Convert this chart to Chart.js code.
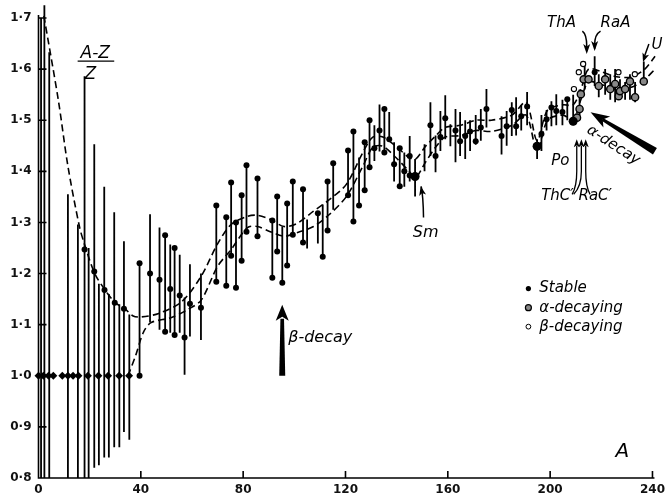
<!DOCTYPE html>
<html>
<head>
<meta charset="utf-8">
<script src="https://cdn.jsdelivr.net/npm/chart.js@4.4.1/dist/chart.umd.min.js"></script>
<style>
  body { margin: 0; background: #fff; }
  #wrap { width: 670px; height: 501px; }
</style>
</head>
<body>
<div id="wrap"><canvas id="chart"></canvas></div>
<script>
// (A-Z)/Z against mass number A
const xTicks = [0, 40, 80, 120, 160, 200, 240];
const yTicks = [0.8, 0.9, 1.0, 1.1, 1.2, 1.3, 1.4, 1.5, 1.6, 1.7];

// vertical spans: [A, low, high]
const spans = [
  [1, 0.8, 1.70], [2.3, 0.8, 1.725], [4.2, 0.8, 1.633], [11.5, 0.8, 1.355], [15.4, 0.8, 1.296],
  [18, 0.8, 1.586], [19.6, 0.8, 1.25], [21.8, 0.82, 1.453], [23.6, 0.825, 1.18], [25.7, 0.84, 1.37],
  [27.5, 0.84, 1.16], [29.6, 0.86, 1.32], [31.6, 0.86, 1.14], [33.4, 0.89, 1.263], [35.5, 0.875, 1.12],
  [39.5, 1.0, 1.22], [43.6, 1.104, 1.316], [47.3, 1.09, 1.29], [49.5, 1.086, 1.275], [51.5, 1.084, 1.257],
  [53.2, 1.08, 1.25], [55.2, 1.084, 1.237], [57.1, 1.002, 1.153], [59.2, 1.077, 1.218], [63.5, 1.07, 1.2],
  [69.5, 1.184, 1.333], [73.4, 1.176, 1.31], [75.3, 1.235, 1.378], [77.2, 1.172, 1.3], [79.4, 1.225, 1.353],
  [81.3, 1.282, 1.412], [85.6, 1.273, 1.386], [91.4, 1.192, 1.304], [93.3, 1.243, 1.351], [95.3, 1.182, 1.292],
  [97.2, 1.216, 1.337], [99.4, 1.276, 1.38], [103.4, 1.261, 1.365], [105.0, 1.249, 1.306], [109.2, 1.259, 1.318],
  [111.1, 1.233, 1.335], [113.0, 1.284, 1.38], [115.2, 1.325, 1.416], [121.0, 1.353, 1.441], [123.1, 1.302, 1.478],
  [125.3, 1.333, 1.427], [127.5, 1.363, 1.457], [129.4, 1.408, 1.5], [131.3, 1.42, 1.49], [133.3, 1.439, 1.531],
  [135.2, 1.437, 1.522], [137.1, 1.463, 1.516], [139.0, 1.38, 1.457], [141.2, 1.371, 1.445], [143.0, 1.37, 1.437],
  [145.1, 1.38, 1.469], [147.2, 1.351, 1.424], [150.9, 1.40, 1.453], [153.2, 1.43, 1.535], [155.2, 1.398, 1.47],
  [157.1, 1.44, 1.518], [159.0, 1.463, 1.549], [161.0, 1.449, 1.492], [163.0, 1.418, 1.522], [164.8, 1.43, 1.516],
  [166.8, 1.424, 1.5], [168.7, 1.44, 1.5], [170.9, 1.452, 1.51], [172.9, 1.46, 1.522], [175.1, 1.486, 1.561],
  [181.0, 1.433, 1.508], [183.0, 1.45, 1.518], [185.0, 1.469, 1.535], [186.7, 1.47, 1.545], [188.7, 1.48, 1.53],
  [191.0, 1.49, 1.555], [194.9, 1.424, 1.463], [196.6, 1.44, 1.51], [198.6, 1.48, 1.52], [200.5, 1.488, 1.537],
  [202.4, 1.49, 1.551], [204.8, 1.49, 1.54], [206.7, 1.5, 1.545], [209.0, 1.49, 1.55], [211.5, 1.5, 1.56],
  [213.5, 1.56, 1.615], [217.4, 1.567, 1.625], [219.0, 1.545, 1.59], [221.5, 1.55, 1.6], [223.5, 1.54, 1.59],
  [225.4, 1.535, 1.6], [227.3, 1.54, 1.58], [229.3, 1.54, 1.575], [231.2, 1.54, 1.59], [233.2, 1.535, 1.575],
  [236.6, 1.57, 1.615]
];

// stable nuclei: [A, value]
const stableDots = [
  [18, 1.247], [21.8, 1.204], [25.8, 1.168], [29.8, 1.143], [33.4, 1.131], [39.5, 1.22], [39.5, 1.0],
  [43.6, 1.2], [47.3, 1.188], [49.5, 1.275], [49.5, 1.086], [51.5, 1.17], [53.2, 1.25], [53.2, 1.08],
  [55.2, 1.157], [57.1, 1.075], [59.2, 1.141], [63.5, 1.133], [69.5, 1.333], [69.5, 1.184], [73.4, 1.31],
  [73.4, 1.176], [75.3, 1.378], [75.3, 1.235], [77.2, 1.3], [77.2, 1.172], [79.4, 1.353], [79.4, 1.225],
  [81.3, 1.412], [81.3, 1.282], [85.6, 1.386], [85.6, 1.273], [91.4, 1.304], [91.4, 1.192], [93.3, 1.351],
  [93.3, 1.243], [95.3, 1.182], [97.2, 1.337], [97.2, 1.216], [99.4, 1.38], [99.4, 1.276], [103.4, 1.365],
  [103.4, 1.261], [109.2, 1.318], [111.1, 1.233], [113, 1.38], [113, 1.284], [115.2, 1.416], [121, 1.441],
  [121, 1.353], [123.1, 1.478], [123.1, 1.302], [125.3, 1.333], [127.5, 1.457], [127.5, 1.363], [129.4, 1.5],
  [129.4, 1.408], [131.3, 1.445], [133.3, 1.48], [135.2, 1.522], [135.2, 1.437], [137.1, 1.463], [139, 1.414],
  [141.2, 1.445], [141.2, 1.371], [143, 1.4], [145.1, 1.43], [145.1, 1.392], [153.2, 1.49], [155.2, 1.43],
  [157.1, 1.467], [159, 1.504], [163, 1.48], [164.8, 1.459], [166.8, 1.469], [168.7, 1.478], [170.9, 1.459],
  [172.9, 1.486], [175.1, 1.522], [181, 1.469], [183, 1.488], [185, 1.52], [186.7, 1.488], [188.7, 1.508],
  [191, 1.527], [196.6, 1.473], [198.6, 1.502], [200.5, 1.525], [202.4, 1.518], [204.8, 1.516], [206.7, 1.541],
  [217.4, 1.594]
];
const bigDots = [[147.2, 1.39], [194.9, 1.449], [209, 1.498]];
const lightDiamonds = [0, 1.9, 3.9, 5.8, 9.3, 11.5, 13.5, 15.6, 19.3, 23.4, 27.2, 31.5, 35.4];
const alphaDots = [
  [210.5, 1.505], [211.5, 1.522], [212, 1.551], [213.1, 1.58], [215, 1.58], [219, 1.567], [221.5, 1.58],
  [223.5, 1.561], [225.4, 1.571], [226.8, 1.547], [227.3, 1.557], [229.3, 1.561], [231.2, 1.576],
  [233.2, 1.545], [236.6, 1.576]
];
const betaDots = [[209.3, 1.561], [211.2, 1.594], [212.9, 1.61], [226.7, 1.594], [233.1, 1.59]];

// dashed band
const upperBand = [
  [2.1, 1.704], [7.7, 1.541], [11.5, 1.41], [16, 1.292], [18, 1.257], [22, 1.2], [26, 1.168], [30, 1.143],
  [34, 1.13], [37, 1.117], [40, 1.115], [47, 1.122], [56, 1.145], [63.6, 1.195], [70, 1.258], [75.3, 1.296],
  [81.7, 1.312], [85.6, 1.314], [90.6, 1.306], [96, 1.292], [101, 1.298], [107.5, 1.322], [113.8, 1.345],
  [120.4, 1.375], [126.8, 1.437], [130.7, 1.467], [134.6, 1.467], [139.7, 1.449], [144.9, 1.427],
  [147.4, 1.424], [151.3, 1.449], [155.2, 1.469], [159, 1.486], [165, 1.49], [171, 1.5], [177, 1.5],
  [185, 1.51], [190.6, 1.535], [194.9, 1.46], [199, 1.52], [205, 1.53], [209, 1.53], [212, 1.56],
  [215, 1.6], [220, 1.595], [226, 1.585], [232, 1.585], [237, 1.6], [241, 1.625]
];
const lowerBand = [
  [35, 1.0], [38, 1.04], [41, 1.085], [44, 1.104], [52, 1.114], [58.5, 1.13], [63.6, 1.148], [70, 1.214],
  [75.3, 1.247], [81.7, 1.29], [85.6, 1.292], [90.6, 1.282], [96, 1.273], [101, 1.28], [107.5, 1.292],
  [113.8, 1.316], [120.4, 1.351], [126.8, 1.41], [130.7, 1.447], [134.6, 1.449], [139.7, 1.427],
  [144.9, 1.4], [147.4, 1.388], [151.3, 1.418], [155.2, 1.447], [159, 1.467], [165, 1.47], [171, 1.48],
  [177, 1.478], [185, 1.49], [190.6, 1.51], [194.9, 1.44], [199, 1.5], [205, 1.51], [209, 1.5],
  [212, 1.54], [215, 1.575], [220, 1.57], [226, 1.56], [232, 1.565], [237, 1.58], [241, 1.6]
];

const pts = arr => arr.map(([a, v]) => ({ x: a, y: v }));
const spanPts = [];
spans.forEach(([a, lo, hi]) => {
  spanPts.push({ x: a, y: lo }, { x: a, y: hi }, { x: a, y: null });
});

const italic = size => 'italic ' + size + 'px "DejaVu Sans"';

function arrowHead(ctx, x1, y1, x2, y2, len, w) {
  const ang = Math.atan2(y2 - y1, x2 - x1);
  ctx.save();
  ctx.translate(x2, y2);
  ctx.rotate(ang);
  ctx.beginPath();
  ctx.moveTo(0, 0);
  ctx.lineTo(-len, -w / 2);
  ctx.lineTo(-len * 0.75, 0);
  ctx.lineTo(-len, w / 2);
  ctx.closePath();
  ctx.fill();
  ctx.restore();
}

// axes, ticks, arrows and handwritten labels
const decor = {
  id: 'decor',
  afterDatasetsDraw(chart) {
    const { ctx, chartArea: ca, scales: { x, y } } = chart;
    const X = v => x.getPixelForValue(v);
    const Y = v => y.getPixelForValue(v);
    ctx.save();
    ctx.strokeStyle = '#000';
    ctx.fillStyle = '#000';
    ctx.lineWidth = 1.6;
    ctx.beginPath();
    ctx.moveTo(ca.left, Y(1.706));
    ctx.lineTo(ca.left, ca.bottom);
    ctx.lineTo(ca.right + 2, ca.bottom);
    yTicks.forEach(v => { ctx.moveTo(ca.left, Y(v)); ctx.lineTo(ca.left + 8, Y(v)); });
    xTicks.forEach(v => { ctx.moveTo(X(v), ca.bottom); ctx.lineTo(X(v), ca.bottom - 7); });
    ctx.stroke();

    const txt = (s, a, v, size, align) => {
      ctx.font = italic(size);
      ctx.textAlign = align || 'left';
      ctx.textBaseline = 'alphabetic';
      ctx.fillText(s, X(a), Y(v));
    };

    // (A-Z)/Z
    txt('A-Z', 22.2, 1.6216, 17, 'center');
    ctx.lineWidth = 1.4;
    ctx.beginPath();
    ctx.moveTo(X(15.3), Y(1.6157));
    ctx.lineTo(X(29.6), Y(1.6157));
    ctx.stroke();
    txt('Z', 20.3, 1.5804, 17, 'center');

    // beta-decay arrow
    const bx = X(95.27), by1 = Y(1.0), by2 = Y(1.1392);
    ctx.beginPath();
    ctx.moveTo(bx - 3, by1); ctx.lineTo(bx + 3, by1);
    ctx.lineTo(bx + 1.8, by2 + 14); ctx.lineTo(bx - 1.8, by2 + 14);
    ctx.closePath(); ctx.fill();
    arrowHead(ctx, bx, by1, bx, by2, 16, 13);
    ctx.font = italic(16);
    ctx.textAlign = 'left';
    ctx.textBaseline = 'middle';
    ctx.fillText('β-decay', X(97.6), Y(1.0745));

    // Sm
    txt('Sm', 146.3, 1.2706, 16);
    ctx.lineWidth = 1.5;
    ctx.beginPath();
    ctx.moveTo(X(150.5), Y(1.3098));
    ctx.quadraticCurveTo(X(150.4), Y(1.35), X(149.6), Y(1.3706));
    ctx.stroke();
    arrowHead(ctx, X(150.3), Y(1.35), X(149.4), Y(1.3706), 9, 7);

    // ThA, RaA, U
    txt('ThA', 198.8, 1.6824, 15);
    txt('RaA', 219.7, 1.6824, 15);
    txt('U', 239.6, 1.6392, 15);
    ctx.beginPath();
    ctx.moveTo(X(212.6), Y(1.6745));
    ctx.quadraticCurveTo(X(214.3), Y(1.668), X(214.3), Y(1.645));
    ctx.lineTo(X(214.3), Y(1.635));
    ctx.moveTo(X(219.7), Y(1.6745));
    ctx.quadraticCurveTo(X(217.4), Y(1.668), X(217.4), Y(1.648));
    ctx.lineTo(X(217.4), Y(1.64));
    ctx.moveTo(X(238.6), Y(1.649));
    ctx.lineTo(X(236.5), Y(1.62));
    ctx.stroke();
    arrowHead(ctx, X(214.3), Y(1.66), X(214.3), Y(1.6294), 10, 7);
    arrowHead(ctx, X(217.4), Y(1.66), X(217.4), Y(1.6353), 10, 7);
    arrowHead(ctx, X(238.6), Y(1.649), X(236.3), Y(1.6137), 9, 7);

    // alpha-decay arrow
    const ax1 = X(240.96), ay1 = Y(1.4392), ax2 = X(215.8), ay2 = Y(1.5157);
    const ang = Math.atan2(ay2 - ay1, ax2 - ax1);
    const nx = -Math.sin(ang), ny = Math.cos(ang);
    const hx = ax2 - Math.cos(ang) * 14, hy = ay2 - Math.sin(ang) * 14;
    ctx.beginPath();
    ctx.moveTo(ax1 + nx * 3.8, ay1 + ny * 3.8);
    ctx.lineTo(ax1 - nx * 3.8, ay1 - ny * 3.8);
    ctx.lineTo(hx - nx * 1.5, hy - ny * 1.5);
    ctx.lineTo(hx + nx * 1.5, hy + ny * 1.5);
    ctx.closePath(); ctx.fill();
    arrowHead(ctx, ax1, ay1, ax2, ay2, 19, 13);
    ctx.save();
    ctx.translate(X(224.7), Y(1.451));
    ctx.rotate(33 * Math.PI / 180);
    ctx.font = italic(15);
    ctx.textAlign = 'center';
    ctx.textBaseline = 'middle';
    ctx.fillText('α-decay', 0, 0);
    ctx.restore();

    // Po, ThC', RaC'
    txt('Po', 200.4, 1.4118, 15);
    txt('ThC′ RaC′', 196.5, 1.3431, 15);
    ctx.lineWidth = 1.3;
    [[210.4, 208.6], [212.2, 209.2], [213.9, 215.6]].forEach(([a, foot]) => {
      ctx.beginPath();
      ctx.moveTo(X(foot), Y(1.355));
      ctx.quadraticCurveTo(X(a), Y(1.37), X(a), Y(1.4));
      ctx.lineTo(X(a), Y(1.45));
      ctx.stroke();
      arrowHead(ctx, X(a), Y(1.42), X(a), Y(1.4627), 8, 6);
    });

    // key
    const ky = [1.1706, 1.1333, 1.0961];
    const kx = X(191.5);
    ctx.beginPath(); ctx.arc(kx, Y(ky[0]), 2.6, 0, Math.PI * 2); ctx.fill();
    ctx.beginPath(); ctx.arc(kx, Y(ky[1]), 3, 0, Math.PI * 2);
    ctx.fillStyle = '#888'; ctx.fill(); ctx.lineWidth = 1.2; ctx.stroke();
    ctx.fillStyle = '#000';
    ctx.beginPath(); ctx.arc(kx, Y(ky[2]), 2.4, 0, Math.PI * 2);
    ctx.fillStyle = '#fff'; ctx.fill(); ctx.lineWidth = 1; ctx.stroke();
    ctx.fillStyle = '#000';
    ctx.font = italic(15);
    ctx.textAlign = 'left';
    ctx.textBaseline = 'middle';
    ['Stable', 'α-decaying', 'β-decaying'].forEach((s, i) => ctx.fillText(s, X(195.75), Y(ky[i])));

    // axis name
    txt('A', 225.5, 0.8412, 20);
    ctx.restore();
  }
};

new Chart(document.getElementById('chart'), {
  type: 'scatter',
  data: {
    datasets: [
      {
        data: pts(stableDots), pointRadius: 3, pointBackgroundColor: '#000',
        pointBorderWidth: 0, order: 1, clip: false
      },
      {
        data: pts(bigDots), pointRadius: 4.5, pointBackgroundColor: '#000',
        pointBorderWidth: 0, order: 1, clip: false
      },
      {
        data: lightDiamonds.map(a => ({ x: a, y: 1.0 })), pointStyle: 'rectRot', pointRadius: 4,
        pointBackgroundColor: '#000', pointBorderWidth: 0, order: 1, clip: false
      },
      {
        data: pts(alphaDots), pointRadius: 3.6, pointBackgroundColor: '#888',
        pointBorderColor: '#000', pointBorderWidth: 1.4, order: 1, clip: false
      },
      {
        data: pts(betaDots), pointRadius: 2.6, pointBackgroundColor: '#fff',
        pointBorderColor: '#000', pointBorderWidth: 1.1, order: 1, clip: false
      },
      {
        data: pts(upperBand), showLine: true, pointRadius: 0, borderColor: '#000', borderWidth: 1.6,
        borderDash: [7, 4], tension: 0.3, order: 2, clip: false
      },
      {
        data: pts(lowerBand), showLine: true, pointRadius: 0, borderColor: '#000', borderWidth: 1.6,
        borderDash: [7, 4], tension: 0.3, order: 2, clip: false
      },
      {
        data: spanPts, showLine: true, spanGaps: false, pointRadius: 0, borderColor: '#000',
        borderWidth: 1.8, order: 3, clip: false
      }
    ]
  },
  options: {
    responsive: true,
    maintainAspectRatio: false,
    animation: false,
    layout: { padding: { top: 18, right: 14, left: 0, bottom: 0 } },
    plugins: { legend: { display: false }, tooltip: { enabled: false } },
    scales: {
      x: {
        type: 'linear', min: 0, max: 240,
        afterFit: s => { s.height = 23; },
        grid: { display: false, drawTicks: false },
        border: { display: false },
        ticks: {
          stepSize: 40, padding: 5, color: '#111',
          font: { family: 'DejaVu Sans', size: 12, weight: 'bold' }
        }
      },
      y: {
        type: 'linear', min: 0.8, max: 1.7,
        afterFit: s => { s.width = 38.5; },
        grid: { display: false, drawTicks: false },
        border: { display: false },
        ticks: {
          stepSize: 0.1, padding: 7, color: '#111',
          font: { family: 'DejaVu Sans', size: 12, weight: 'bold' },
          callback: v => v.toFixed(1).replace('.', '·')
        }
      }
    }
  },
  plugins: [decor]
});
</script>
</body>
</html>
